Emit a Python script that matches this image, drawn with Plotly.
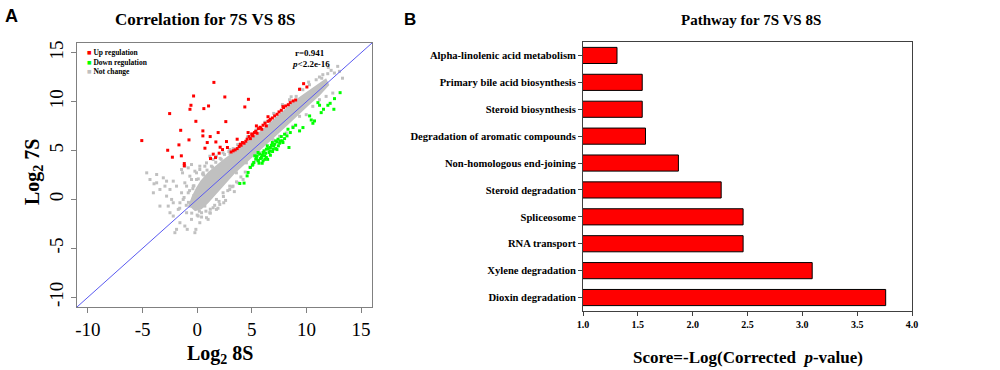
import plotly.graph_objects as go

# ---------------- Panel A data (Log2 8S, Log2 7S) ----------------
up_x = [-5.07, -2.52, -2.70, -2.27, -1.51, -1.67, -1.45, -1.18, -1.18, -0.75, -0.66, -0.57, -0.33,
        -0.12, 0.52, 0.52, 0.61, 1.04, 1.19, 0.71, 1.53, 0.92, 1.47, 1.71, 1.92, 2.10, 2.01, 2.53,
        2.62, 4.69, 4.36, 1.22, 1.68, 2.32, 2.77, 2.68, 9.74, 9.37, 10.04,
        3.29, 3.47, 3.66, 3.84, 4.02, 4.14, 4.29, 4.45, 4.57, 4.75, 4.87, 4.99, 5.12, 5.24, 5.36,
        5.48, 5.60, 5.75, 5.91, 6.03, 6.21, 6.33, 6.48, 6.70, 6.88, 7.09, 7.31, 7.49, 7.70, 7.91,
        8.10, 8.34, 8.52, 8.77, 9.01, 3.66, 4.66, 5.42, 6.48, 7.85, 3.10, 3.95, 5.05, 5.80, 6.60]
up_y = [6.02, 8.78, 5.03, 4.32, 7.07, 5.58, 4.46, 3.67, 3.44, 6.09, 9.22, 9.63, 10.58,
        7.99, 7.01, 6.50, 9.29, 9.56, 6.43, 5.24, 11.97, 5.82, 4.63, 5.88, 6.84, 5.34, 4.73, 10.48,
        7.96, 10.24, 9.46, 4.18, 4.28, 5.10, 5.31, 5.92, 11.84, 11.26, 11.50,
        4.97, 5.07, 5.20, 5.41, 5.54, 5.82, 5.75, 5.95, 6.16, 6.43, 6.22, 6.70, 6.50, 6.84, 6.97,
        6.77, 7.24, 7.38, 7.18, 7.59, 7.79, 7.52, 7.99, 8.20, 8.33, 8.54, 8.71, 8.95, 9.12, 9.39,
        9.56, 9.69, 9.90, 10.07, 10.17, 6.16, 6.84, 7.52, 8.46, 9.49, 4.85, 5.65, 6.55, 7.30, 8.05]

down_x = [3.90, 4.29, 4.57, 4.66, 4.87, 5.05, 5.18, 5.36, 5.48, 5.57, 5.72, 5.88, 6.03, 6.18, 6.33,
          6.42, 6.58, 6.70, 6.88, 7.00, 7.18, 7.40, 7.55, 7.70, 7.79, 8.00, 8.22, 8.31, 8.40, 8.52,
          8.77, 9.01, 9.37, 9.68, 10.29, 10.44, 10.59, 10.74, 11.05, 11.20, 11.35, 11.56, 11.96,
          12.17, 12.51, 12.57, 13.08,
          5.27, 5.42, 5.57, 5.66, 5.78, 5.97, 6.03, 6.12, 6.27, 6.33, 6.48, 6.64, 6.70, 6.79, 6.94,
          7.09, 7.18, 7.31, 7.43, 7.61, 7.85, 8.00, 5.10, 5.60, 6.20, 6.90, 7.30, 6.45, 5.95]
down_y = [1.63, 1.67, 2.41, 2.76, 3.27, 3.50, 3.78, 4.12, 4.46, 3.95, 4.63, 4.29, 4.80, 4.46, 5.14,
          5.48, 4.80, 5.31, 5.82, 5.48, 5.99, 6.16, 5.75, 6.43, 5.99, 6.22, 6.50, 7.18, 5.31, 6.84,
          7.35, 7.59, 7.01, 7.35, 8.54, 8.13, 7.79, 8.03, 9.90, 9.63, 8.88, 9.22, 9.63,
          9.83, 9.22, 10.31, 10.92,
          4.46, 4.29, 4.80, 3.71, 4.18, 4.52, 3.95, 4.97, 4.73, 4.29, 5.20, 4.97, 4.52, 5.54, 5.14,
          5.65, 5.20, 5.88, 5.48, 5.99, 5.82, 6.67, 3.60, 4.00, 4.10, 4.90, 5.10, 4.10, 3.70]

nc_x = [-4.62, -3.95, -3.71, -3.10, -2.95, -2.80, -2.65, -2.34, -2.19, -2.04, -1.89, -1.73, -1.58,
        -1.43, -1.34, -1.28, -1.13, -0.97, -0.91, -0.82, -0.67, -0.52, -0.43, -0.36, -0.21, -0.12,
        -0.06, 0.09, 0.24, 0.40, 0.55, 0.70, 0.85, 1.00, 1.16, 1.46, 1.76, 2.07, 2.43, 2.98, 3.28,
        3.74, 4.20, -1.43, -1.13, -0.82, -0.52, -0.21, 0.24, 0.85, 1.46, -4.01, -3.41, -2.49, -1.89,
        -2.19, -2.80, -3.71, -4.32, -3.41, -2.49, -1.58, -1.13, -0.67, -2.19, 0.24,
        10.89, 11.19, 11.50, 11.95, 12.26, 12.56, 12.86, 13.02, 10.28, 9.67, 9.06, 8.45,
        8.76, 9.37, 9.98, 10.58, 11.19, 11.80, 12.41, 8.15, 7.54, 6.93, 5.72, 4.50, 3.59, 2.98,
        2.37, 1.76, -0.97, -0.52, -0.06, 0.24, 0.70, 1.16, 1.76, 2.37, 2.98,
        -0.70, -0.30, 0.10, 0.50, 0.90, 1.30, 1.70, 2.10, 2.50, 2.90, 3.30, 3.70, -1.00, -0.50,
        0.00, 0.40, 0.80, 1.20, 1.60, 2.00, 2.40, 2.80, 3.20, 3.60, 4.00, 4.40, 4.80, 5.20,
        -1.60, -1.20, -0.80, -0.40, 0.60, 1.40, 2.20, 3.00, 3.80, 4.60, 5.40, 6.20, 7.00, 7.80,
        8.60, 9.40, 10.20, 11.40, 12.00, 13.30, 1.20, 1.90, 2.60, 3.40, 0.20, -0.30, 2.90, 3.70]
nc_y = [2.72, 1.60, 2.55, 2.21, 1.36, 0.34, -0.68, 0.00, -1.70, -3.40, -3.06, -1.02, -0.34,
        0.68, 2.72, 0.00, 1.70, -1.36, -3.06, 0.68, 2.38, -2.04, 0.00, 1.36, -3.40, -3.06,
        2.04, -1.70, -2.38, -1.36, 2.72, -0.68, -1.87, -2.04, -1.36, -0.85, -1.02, -0.51, -0.34, 1.02, 1.36,
        1.70, 2.04, 3.06, 3.40, 3.23, 3.57, 2.89, 3.40, 3.74, 4.08, 0.68, 1.02, 1.02, 1.36,
        1.87, 1.87, 1.70, 2.04, -0.68, -1.36, -2.38, -2.72, -0.68, -0.34, 0.00,
        12.24, 12.52, 12.76, 12.86, 13.20, 12.93, 13.61, 13.10, 11.73, 11.22, 10.54, 10.20,
        7.48, 8.50, 8.67, 9.52, 10.20, 10.54, 10.88, 6.80, 6.46, 6.12, 4.76, 3.74, 2.72, 1.36,
        0.68, 0.00, 1.36, 2.04, 2.72, 3.06, 3.40, 4.42, 4.42, 4.76, 5.10,
        0.90, 1.40, 2.10, 2.60, 3.00, 3.40, 3.80, 4.20, 4.60, 4.90, 5.20, 5.60, -0.60, -1.40,
        -1.60, -1.80, -1.20, -1.00, -0.60, -0.20, 0.30, 0.90, 1.30, 1.80, 2.30, 2.80, 3.30, 3.80,
        -0.90, 0.20, -0.30, 1.10, 2.50, 3.30, 4.10, 4.70, 5.60, 6.40, 7.10, 7.90, 8.80, 9.70,
        10.50, 11.30, 12.00, 12.40, 13.50, 12.40, -1.40, -0.90, -0.10, 0.80, -1.20, 0.40, 4.00, 4.60]

# dense core of the "not change" cloud (outline, data units)
core_x = [-0.8, -0.5, -0.1, 0.3, 1.0, 1.6, 2.3, 3.0, 4.0, 5.0, 6.0, 7.0, 8.0, 9.0, 10.0, 11.0, 11.8,
          12.1, 11.2, 10.2, 9.2, 8.2, 7.2, 6.2, 5.2, 4.2, 3.4, 2.6, 1.8, 1.0, 0.4, -0.2]
core_y = [-0.6, 0.3, 1.2, 1.9, 2.8, 3.4, 4.0, 4.6, 5.4, 6.3, 7.2, 8.2, 9.2, 10.2, 11.0, 11.8, 12.4,
          11.7, 10.6, 9.6, 8.6, 7.5, 6.5, 5.5, 4.5, 3.5, 2.6, 1.6, 0.6, -0.4, -1.0, -1.2]

diag = [-11, 16]
a_ticks = [-10, -5, 0, 5, 10, 15]
a_ticktext = ["-10", "-5", "0", "5", "10", "15"]

# ---------------- Panel B data ----------------
pathways = ["Alpha-linolenic acid metabolism", "Primary bile acid biosynthesis", "Steroid biosynthesis",
            "Degradation of aromatic compounds", "Non-homologous end-joining", "Steroid degradation",
            "Spliceosome", "RNA transport", "Xylene degradation", "Dioxin degradation"]
scores = [1.31, 1.54, 1.54, 1.57, 1.87, 2.26, 2.46, 2.46, 3.09, 3.76]
b_ticks = [1.0, 1.5, 2.0, 2.5, 3.0, 3.5, 4.0]
b_ticktext = ["1.0", "1.5", "2.0", "2.5", "3.0", "3.5", "4.0"]

SERIF = "Liberation Serif, Times New Roman, serif"
SANS = "Liberation Sans, Arial, sans-serif"

fig = go.Figure()

fig.add_trace(go.Scatter(x=core_x, y=core_y, fill="toself", fillcolor="#c0c0c0", mode="lines",
                         line=dict(width=0, color="#c0c0c0"), xaxis="x", yaxis="y", hoverinfo="skip"))
fig.add_trace(go.Scatter(x=nc_x, y=nc_y, mode="markers",
                         marker=dict(symbol="square", size=3, color="#c0c0c0"), xaxis="x", yaxis="y"))
fig.add_trace(go.Scatter(x=up_x, y=up_y, mode="markers",
                         marker=dict(symbol="square", size=3, color="#ff0000"), xaxis="x", yaxis="y"))
fig.add_trace(go.Scatter(x=down_x, y=down_y, mode="markers",
                         marker=dict(symbol="square", size=3, color="#00ff00"), xaxis="x", yaxis="y"))
fig.add_trace(go.Scatter(x=diag, y=diag, mode="lines", line=dict(color="#5a5af0", width=1),
                         xaxis="x", yaxis="y"))

fig.add_trace(go.Bar(x=scores, y=pathways, orientation="h", width=0.6,
                     marker=dict(color="#ff0000", line=dict(color="#000000", width=1)),
                     xaxis="x2", yaxis="y2"))

fig.update_layout(
    width=1000, height=370, margin=dict(l=0, r=0, t=0, b=0, autoexpand=False),
    paper_bgcolor="white", plot_bgcolor="white", showlegend=False,
    xaxis=dict(domain=[0.077, 0.372], range=[-11, 16], tickvals=a_ticks, ticktext=a_ticktext,
               ticks="outside", ticklen=5, tickcolor="#808080", showline=True, mirror=True,
               linecolor="#808080", linewidth=1, showgrid=False, zeroline=False, automargin=False,
               tickfont=dict(family=SERIF, size=19, color="black")),
    yaxis=dict(domain=[0.1703, 0.8838], range=[-11, 16], tickvals=a_ticks, ticktext=a_ticktext,
               ticks="outside", ticklen=5, tickcolor="#808080", showline=True, mirror=True,
               linecolor="#808080", linewidth=1, showgrid=False, zeroline=False, tickangle=-90,
               automargin=False, tickfont=dict(family=SERIF, size=19, color="black")),
    xaxis2=dict(domain=[0.583, 0.912], range=[1.0, 4.0], tickvals=b_ticks, ticktext=b_ticktext,
                ticks="outside", ticklen=4, tickcolor="#404040", showline=True, mirror=True,
                linecolor="#404040", linewidth=1, showgrid=False, zeroline=False, anchor="y2",
                automargin=False, tickfont=dict(family=SERIF, size=10, color="black", weight="bold")),
    yaxis2=dict(domain=[0.1595, 0.8865], autorange="reversed", ticks="outside", ticklen=4,
                tickcolor="#404040", showline=True, mirror=True, linecolor="#404040", linewidth=1,
                showgrid=False, zeroline=False, anchor="x2", automargin=False,
                tickfont=dict(family=SERIF, size=10.6, color="black", weight="bold")),
)

ann = []
def A(text, x, y, size, family=SERIF, bold=True, xanchor="center", yanchor="middle", angle=0):
    ann.append(dict(text=text, x=x, y=y, xref="paper", yref="paper", showarrow=False,
                    xanchor=xanchor, yanchor=yanchor, textangle=angle,
                    font=dict(family=family, size=size, color="black",
                              weight="bold" if bold else "normal")))

W, H = 1000.0, 370.0
A("A", 3 / W, 1 - 16.5 / H, 18, family=SANS, xanchor="left")
A("B", 402 / W, 1 - 19 / H, 17, family=SANS, xanchor="left")
A("Correlation for 7S VS 8S", 205 / W, 1 - 19.5 / H, 17)
A("Pathway for 7S VS 8S", 751 / W, 1 - 20 / H, 15)
A("Log<sub>2</sub> 8S", 220 / W, 1 - 354 / H, 20)
A("Log<sub>2</sub> 7S", 33 / W, 1 - 172 / H, 20, angle=-90)
A("Score=-Log(Corrected  <i>p</i>-value)", 748 / W, 1 - 357 / H, 17)
A("r=0.941", 310 / W, 1 - 53.5 / H, 9)
A("<i>p</i><2.2e-16", 311 / W, 1 - 63.5 / H, 9)
leg = [("#ff0000", "Up regulation", 52.5), ("#00ff00", "Down regulation", 62), ("#c0c0c0", "Not change", 71.5)]
for col, lab, yy in leg:
    A('<span style="color:%s">■</span> %s' % (col, lab), 84.5 / W, 1 - yy / H, 7.5, xanchor="left")
fig.update_layout(annotations=ann)

fig.write_html("out.html", config={"displayModeBar": False},
               post_script="document.body.style.margin='0';")
